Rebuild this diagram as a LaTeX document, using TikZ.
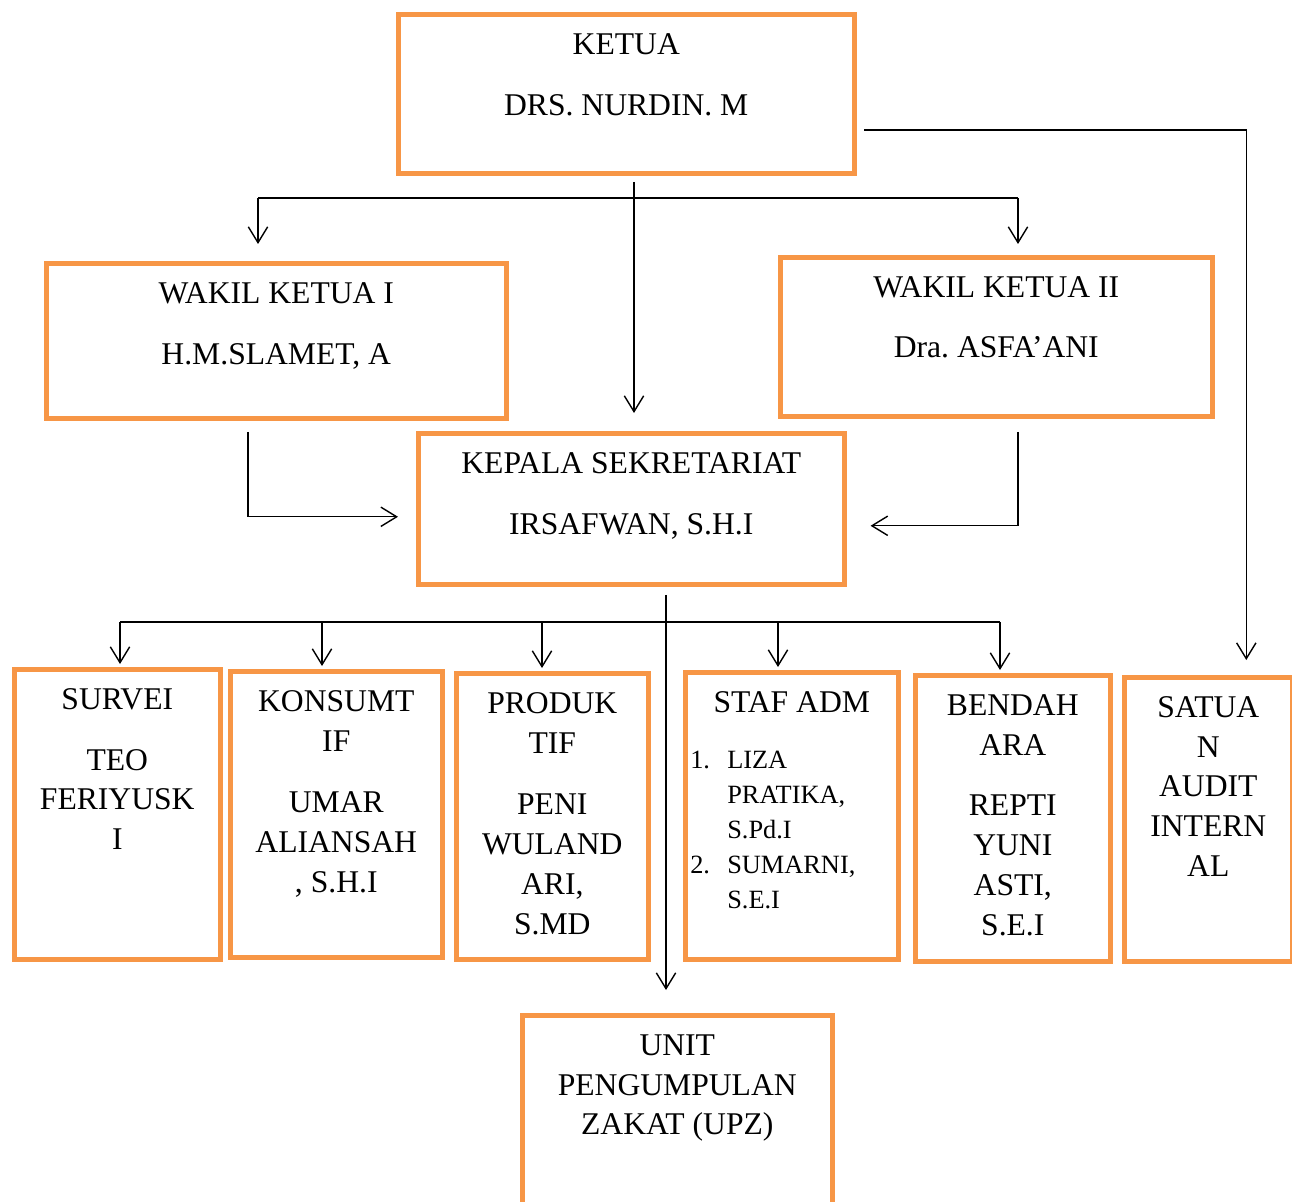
\documentclass[tikz,border=0pt]{standalone}
\usepackage{fontspec}
\setmainfont{Liberation Serif}
\usepackage{tikz}
\usetikzlibrary{calc}
\usetikzlibrary{arrows.meta}
\definecolor{boxorange}{HTML}{F79646}
\frenchspacing
\newlength\unitpx
\setlength\unitpx{0.02cm}
\newcommand{\boxtxt}[3]{\parbox[c][#2\unitpx][t]{#1\unitpx}{\centering\vspace*{12\unitpx}\strut #3}}
\begin{document}
\begin{tikzpicture}[x=0.02cm, y=-0.02cm,
        unit/.style={draw=boxorange, line width=2.6pt, inner sep=0pt, anchor=north west,
            font=\fontsize{18}{22.7}\selectfont},
        arr/.style={-{Straight Barb[length=9pt,width=11pt]}, line width=0.8pt},
        bus/.style={line width=0.8pt}]
            \useasboundingbox (0,0) rectangle (1292,1202);

            \node[unit] (ketua) at (396,12) {\boxtxt{456}{159}{KETUA\\[21\unitpx]DRS. NURDIN. M}};
            \node[unit] (wakil1) at (44,261) {\boxtxt{460}{155}{WAKIL KETUA I\\[21\unitpx]H.M.SLAMET, A}};
            \node[unit] (wakil2) at (778,255) {\boxtxt{432}{159}{WAKIL KETUA II\\[20\unitpx]Dra. ASFA’ANI}};
            \node[unit] (kepala) at (416,431) {\boxtxt{426}{151}{KEPALA SEKRETARIAT\\[21\unitpx]IRSAFWAN, S.H.I}};

            \node[unit] (survei) at (12,667) {\boxtxt{206}{290}{SURVEI\\[21\unitpx]TEO\\FERIYUSK\\I}};
            \node[unit] (konsumtif) at (228,669) {\boxtxt{212}{286}{KONSUMT\\IF\\[22\unitpx]UMAR\\ALIANSAH\\, S.H.I}};
            \node[unit] (produktif) at (454,671) {\boxtxt{192}{286}{PRODUK\\TIF\\[22\unitpx]PENI\\WULAND\\ARI,\\S.MD}};
            \node[unit] (staf) at (683,670) {\boxtxt{213}{287}{STAF ADM\par\vspace{22\unitpx}
                {\fontsize{15}{19.8}\selectfont\raggedright\leftskip=5\unitpx
                \makebox[37\unitpx][l]{1.}LIZA\\
                \hspace*{37\unitpx}PRATIKA,\\
                \hspace*{37\unitpx}S.Pd.I\\
                \makebox[37\unitpx][l]{2.}SUMARNI,\\
                \hspace*{37\unitpx}S.E.I\par}}};
            \node[unit] (bendahara) at (913,673) {\boxtxt{195}{286}{BENDAH\\ARA\\[21\unitpx]REPTI\\YUNI\\ASTI,\\S.E.I}};
            \node[unit] (satuan) at (1122,675) {\boxtxt{168}{284}{SATUA\\N\\AUDIT\\INTERN\\AL}};
            \node[unit] (upz) at (520,1013) {\boxtxt{310}{220}{UNIT\\PENGUMPULAN\\ZAKAT (UPZ)}};

            % ketua
            \coordinate (ketuaout) at (634,182);
            \coordinate (busL) at (258,198);
            \coordinate (busR) at (1018,198);
            \coordinate (ketuaright) at (864,130);
            \draw[arr, shorten >=0.36cm] (ketuaout) -- (ketuaout |- kepala.north);
            \draw[bus] (busL) -- (busR);
            \draw[arr, shorten >=0.34cm] (busL) -- (busL |- wakil1.north);
            \draw[arr, shorten >=0.22cm] (busR) -- (busR |- wakil2.north);
            \draw[arr, shorten >=0.3cm] (ketuaright) -| ($(satuan.north)+(38,0)$);

            % wakil
            \coordinate (w1out) at (248,432);
            \coordinate (w2out) at (1018,432);
            \draw[arr, shorten >=0.36cm] (w1out) |- ($(kepala.west)+(0,8)$);
            \draw[arr, shorten >=0.48cm] (w2out) |- ($(kepala.east)+(0,17)$);

            % kepala
            \coordinate (kepalaout) at (666,595);
            \coordinate (rowL) at (120,622);
            \coordinate (rowR) at (1000,622);
            \draw[arr, shorten >=0.46cm] (kepalaout) -- (kepalaout |- upz.north);
            \draw[bus] (rowL) -- (rowR);
            \foreach \n/\x in {survei/120,konsumtif/322,produktif/542,staf/778,bendahara/1000}{
                \coordinate (t\n) at (\x,622);
                \draw[arr, shorten >=0.06cm] (t\n) -- (t\n |- \n.north);
            }
        \end{tikzpicture}
\end{document}
